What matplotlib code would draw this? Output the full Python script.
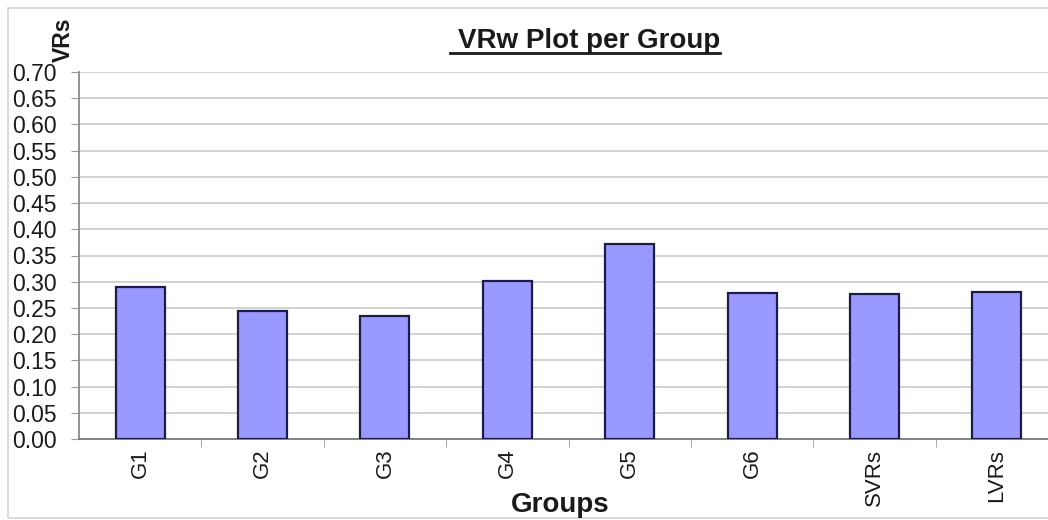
import matplotlib
matplotlib.use("Agg")
import matplotlib.pyplot as plt
from matplotlib.lines import Line2D
from matplotlib.patches import Rectangle

plt.rcParams['font.family'] = ['Liberation Sans', 'DejaVu Sans']

groups = ['G1', 'G2', 'G3', 'G4', 'G5', 'G6', 'SVRs', 'LVRs']
vrw = [0.290, 0.245, 0.235, 0.302, 0.372, 0.278, 0.277, 0.281]
y_ticks = [0.00, 0.05, 0.10, 0.15, 0.20, 0.25, 0.30, 0.35, 0.40, 0.45, 0.50, 0.55, 0.60, 0.65, 0.70]

W, H = 1048, 520
fig = plt.figure(figsize=(W / 100, H / 100), dpi=100)

# chart-area frame
fig.patches.append(Rectangle((8 / W, 2 / H), 1.2, 1 - 10 / H, transform=fig.transFigure,
                             fill=False, edgecolor='#d4d4d4', linewidth=1.2))

ax = fig.add_axes([79 / W, 1 - 439 / H, (1058 - 79) / W, (439 - 72) / H])

x = list(range(len(groups)))
ax.bar(x, vrw, width=0.40, color='#9999ff', edgecolor='#1c1c48', linewidth=1.6, zorder=3)

ax.set_xlim(-0.5, len(groups) - 0.5)
ax.set_ylim(0, 0.70)
ax.set_yticks(y_ticks)
ax.set_yticklabels([f"{v:.2f}" for v in y_ticks], fontsize=16.5, color='#1a1a1a')
ax.yaxis.grid(True, color='#d2d2d2', linewidth=1.4, zorder=0)

ax.set_xticks(x)
ax.set_xticklabels(groups, rotation=90, fontsize=16, color='#1a1a1a')
ax.tick_params(axis='x', which='major', length=0, pad=7)
ax.set_xticks([i + 0.5 for i in x[:-1]], minor=True)
ax.tick_params(axis='x', which='minor', length=6, color='#9a9a9a', direction='out')
ax.tick_params(axis='y', length=6, color='#9a9a9a', direction='out', pad=10)

for side in ['top', 'right']:
    ax.spines[side].set_visible(False)
ax.spines['left'].set_color('#8a8a8a')
ax.spines['bottom'].set_color('#7a7a7a')
ax.spines['left'].set_linewidth(1.3)
ax.spines['bottom'].set_linewidth(1.3)

fig.text(63 / W, 1 - 40 / H, 'VRs', rotation=90, fontsize=16.5, fontweight='bold',
         ha='center', va='center', color='#1a1a1a')
fig.text(560 / W, 1 - 505 / H, 'Groups', fontsize=20, fontweight='bold',
         ha='center', va='center', color='#1a1a1a')

title = fig.text(589 / W, 1 - 48 / H, 'VRw Plot per Group', fontsize=20, fontweight='bold',
                 ha='center', va='baseline', color='#1a1a1a')

# underline the title
fig.canvas.draw()
bb = title.get_window_extent()
fig.lines.append(Line2D([(bb.x0 - 8) / W, bb.x1 / W], [1 - 53 / H, 1 - 53 / H],
                        transform=fig.transFigure, color='#1a1a1a', linewidth=2))

fig.savefig('out.png', dpi=100)
